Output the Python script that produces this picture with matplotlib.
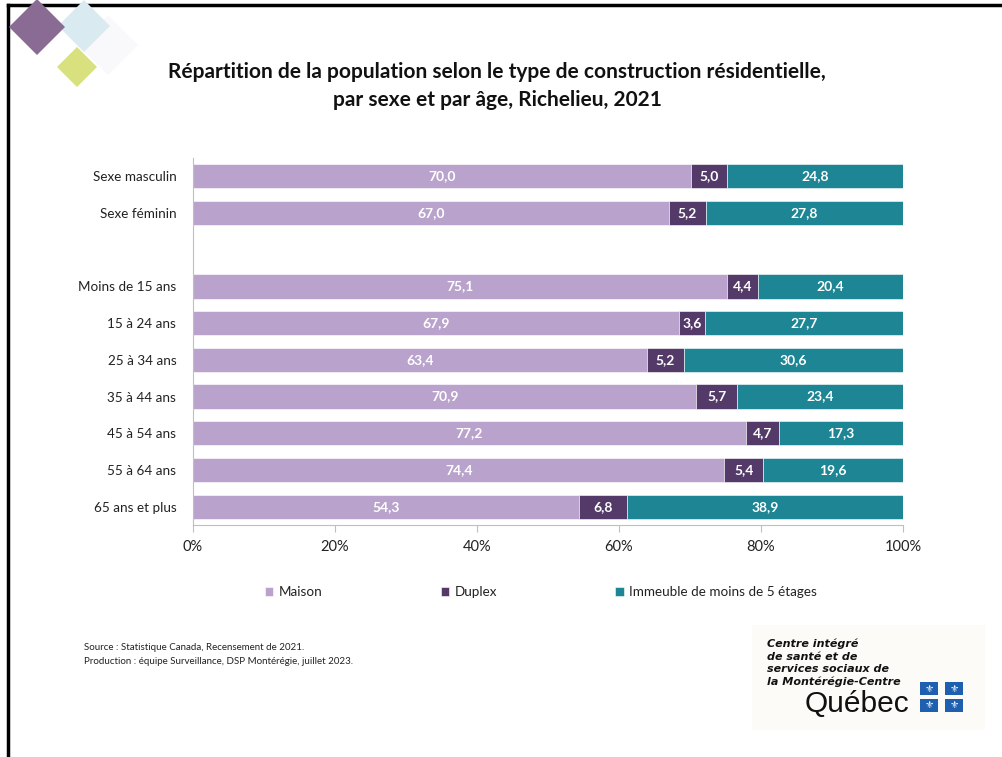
import matplotlib
matplotlib.use("Agg")
import matplotlib.pyplot as plt
from matplotlib.patches import Polygon, Rectangle
import numpy as np

plt.rcParams['font.family'] = ['Lato', 'DejaVu Sans']

categories = ["Sexe masculin", "Sexe féminin", "", "Moins de 15 ans", "15 à 24 ans",
              "25 à 34 ans", "35 à 44 ans", "45 à 54 ans", "55 à 64 ans", "65 ans et plus"]
maison = [70.0, 67.0, np.nan, 75.1, 67.9, 63.4, 70.9, 77.2, 74.4, 54.3]
duplex = [5.0, 5.2, np.nan, 4.4, 3.6, 5.2, 5.7, 4.7, 5.4, 6.8]
immeuble = [24.8, 27.8, np.nan, 20.4, 27.7, 30.6, 23.4, 17.3, 19.6, 38.9]
series_names = ["Maison", "Duplex", "Immeuble de moins de 5 étages"]
colors = ["#B9A3CC", "#533A68", "#1D8593"]
xticks = [0, 20, 40, 60, 80, 100]
xticklabels = ["0%", "20%", "40%", "60%", "80%", "100%"]

W, H = 1003, 757
fig = plt.figure(figsize=(W / 100, H / 100), dpi=100)
fig.patch.set_facecolor("white")

def fx(x):
    return x / W

def fy(y):
    return 1 - y / H

# Frame lines (slide border)
fig.add_artist(plt.Line2D([fx(8), 1.0], [fy(5), fy(5)], color="black", lw=2.5, transform=fig.transFigure))
fig.add_artist(plt.Line2D([fx(8), fx(8)], [fy(5), 0], color="black", lw=2.5, transform=fig.transFigure))

# Decorative diamonds
def diamond(cx, cy, r, color, alpha=1.0, z=1):
    pts = [(fx(cx), fy(cy - r)), (fx(cx + r), fy(cy)), (fx(cx), fy(cy + r)), (fx(cx - r), fy(cy))]
    fig.add_artist(Polygon(pts, closed=True, facecolor=color, edgecolor="none", alpha=alpha,
                           transform=fig.transFigure, zorder=z))

diamond(108, 45, 30, "#F9F9FB", 1.0, 1)
diamond(84, 26, 26, "#D9EAF1", 1.0, 2)
diamond(37, 27, 28, "#8A6B93", 1.0, 3)
diamond(77, 67, 20, "#D9E07E", 1.0, 3)

# Title
fig.text(fx(497), fy(72), "Répartition de la population selon le type de construction résidentielle,",
         ha="center", va="center", fontsize=15, fontweight="bold", color="#111111")
fig.text(fx(497), fy(100), "par sexe et par âge, Richelieu, 2021",
         ha="center", va="center", fontsize=15, fontweight="bold", color="#111111")

ax = fig.add_axes([fx(193), fy(525), fx(903) - fx(193), fy(158) - fy(525)])
y = np.arange(len(categories))
m = np.array(maison); d = np.array(duplex); im = np.array(immeuble)
tot = m + d + im
vals = [m / tot * 100, d / tot * 100, im / tot * 100]
raw = [m, d, im]
left = np.zeros(len(categories))
for k in range(3):
    ax.barh(y, vals[k], left=left, height=0.66, color=colors[k], edgecolor="white",
            linewidth=0.4, label=series_names[k], zorder=2)
    for i in range(len(categories)):
        if np.isnan(vals[k][i]):
            continue
        ax.text(left[i] + vals[k][i] / 2, y[i], f"{raw[k][i]:.1f}".replace(".", ","),
                ha="center", va="center", color="white", fontsize=10, fontweight="bold", zorder=3)
    left = left + np.nan_to_num(vals[k])

ax.set_xlim(0, 100)
ax.set_ylim(len(categories) - 0.5, -0.5)
ax.set_yticks(y)
ax.set_yticklabels(categories, fontsize=9.7, color="#222222")
ax.tick_params(axis="y", length=0, pad=12)
ax.set_xticks(xticks)
ax.set_xticklabels(xticklabels, fontsize=10.5, color="#222222")
ax.tick_params(axis="x", length=5, color="#BFBFBF", pad=6)
for s in ["top", "right"]:
    ax.spines[s].set_visible(False)
ax.spines["left"].set_color("#BFBFBF")
ax.spines["bottom"].set_color("#BFBFBF")

handles, labels = ax.get_legend_handles_labels()
leg = fig.legend(handles, labels, loc="center", bbox_to_anchor=(fx(541), fy(592)), ncol=3,
                 frameon=False, fontsize=9.7, handlelength=0.6, handleheight=0.6,
                 columnspacing=8.8, handletextpad=0.4)
for t in leg.get_texts():
    t.set_color("#222222")

# Source
fig.text(fx(84), fy(648), "Source : Statistique Canada, Recensement de 2021.", fontsize=7, color="#222222", va="center")
fig.text(fx(84), fy(661), "Production : équipe Surveillance, DSP Montérégie, juillet 2023.", fontsize=7, color="#222222", va="center")

# Logo
fig.add_artist(Rectangle((fx(752), fy(730)), fx(985) - fx(752), fy(625) - fy(730),
                         facecolor="#FCFBF8", edgecolor="none", transform=fig.transFigure, zorder=0))
logo_lines = ["Centre intégré", "de santé et de", "services sociaux de", "la Montérégie-Centre"]
for i, ln in enumerate(logo_lines):
    fig.text(fx(767), fy(644 + i * 12.5), ln, fontsize=8, fontweight="bold", fontstyle="italic",
             color="#111111", va="center", family=["DejaVu Sans"])
fig.text(fx(805), fy(704), "Québec", fontsize=21.5, color="#111111", va="center", family=["Liberation Sans"])
for (qx, qy) in [(920, 682), (945, 682), (920, 699), (945, 699)]:
    fig.add_artist(Rectangle((fx(qx), fy(qy + 13)), fx(18), 13 / H, facecolor="#1F5FAF",
                             edgecolor="none", transform=fig.transFigure))
    fig.text(fx(qx + 9), fy(qy + 6.5), "⚜", fontsize=7.5, color="white", ha="center", va="center",
             family=["DejaVu Sans"])

fig.savefig("out.png", dpi=100, facecolor="white")
